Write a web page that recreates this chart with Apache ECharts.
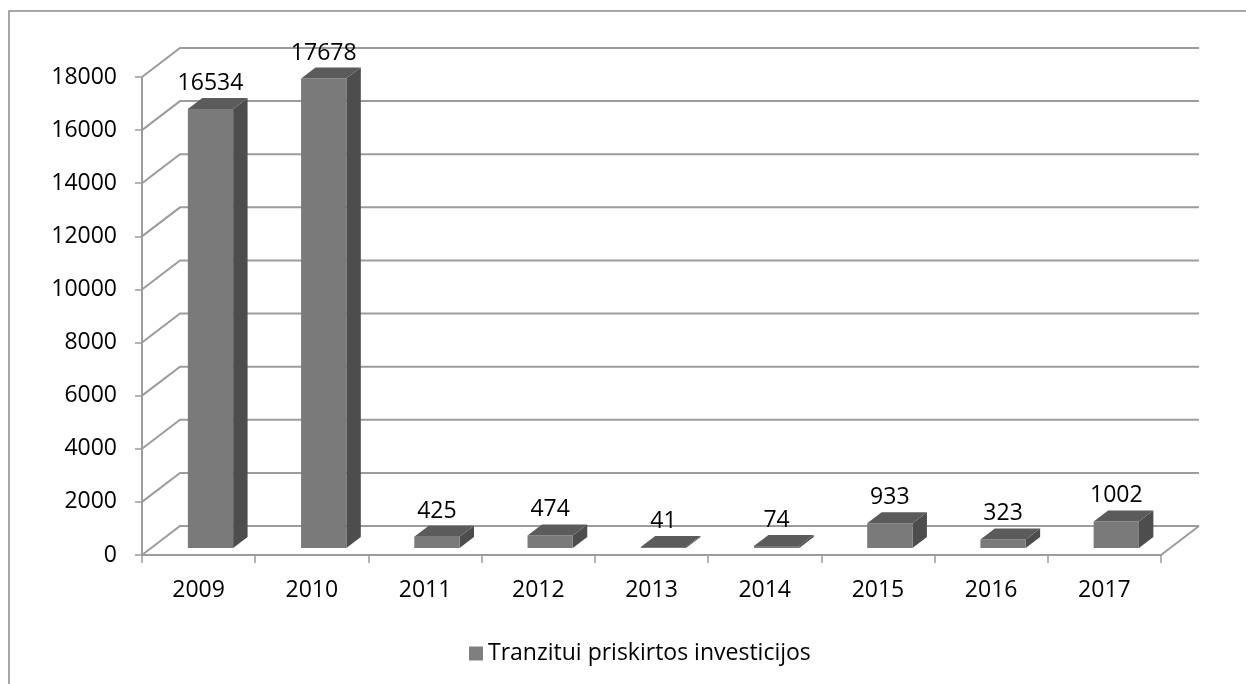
<!DOCTYPE html>
<html>
<head>
<meta charset="utf-8">
<title>Tranzitui priskirtos investicijos</title>
<script src="https://cdn.jsdelivr.net/npm/echarts@6/dist/echarts.min.js"></script>
<style>
  html, body { margin: 0; padding: 0; background: #fff; }
  #main { width: 1246px; height: 684px; }
</style>
</head>
<body>
<div id="main"></div>
<script>
// data
const categories = ['2009', '2010', '2011', '2012', '2013', '2014', '2015', '2016', '2017'];
const values = [16534, 17678, 425, 474, 41, 74, 933, 323, 1002];
const yTicks = [0, 2000, 4000, 6000, 8000, 10000, 12000, 14000, 16000, 18000];
const seriesName = 'Tranzitui priskirtos investicijos';

// 3D look: back wall offset and bar depth (fractions of it)
const DX = 38, DY = 29;
const D0 = 0.24, D1 = 0.62;
const FONT = '"Open Sans", Lato, sans-serif';
const FONT_SIZE = 23;
const GRID_COLOR = '#9c9c9c';

var myChart = echarts.init(document.getElementById('main'));

// back wall gridlines + floor edge
function renderWall(params, api) {
    let cs = params.coordSys;
    let y = api.coord([0, api.value(1)])[1];
    let x0 = cs.x, x1 = cs.x + cs.width;
    let style = { stroke: GRID_COLOR, lineWidth: 2, fill: null };
    let children = [{
        type: 'polyline',
        shape: { points: [[x0, y], [x0 + DX, y - DY], [x1 + DX, y - DY]] },
        style: style
    }];
    if (params.dataIndex === 0) {
        children.push({
            type: 'line',
            shape: { x1: x1, y1: y, x2: x1 + DX, y2: y - DY },
            style: style
        });
    }
    return { type: 'group', children: children };
}

// bar as a box: front, right side, top + value label
function renderBar(params, api) {
    let idx = api.value(0);
    let v = api.value(1);
    let top = api.coord([idx, v]);
    let base = api.coord([idx, 0]);
    let band = api.size([1, 0])[0];
    let w = band * 0.4;
    let fx = top[0] + band * 0.105 - w / 2;
    let fyTop = top[1] - D0 * DY;
    let fyBot = base[1] - D0 * DY;
    let ddx = (D1 - D0) * DX;
    let ddy = (D1 - D0) * DY;
    return {
        type: 'group',
        children: [{
            type: 'polygon',
            shape: { points: [[fx + w, fyTop], [fx + w + ddx, fyTop - ddy], [fx + w + ddx, fyBot - ddy], [fx + w, fyBot]] },
            style: { fill: '#4d4d4d' }
        }, {
            type: 'rect',
            shape: { x: fx, y: fyTop, width: w, height: fyBot - fyTop },
            style: { fill: '#7a7a7a' }
        }, {
            type: 'polygon',
            shape: { points: [[fx, fyTop], [fx + ddx, fyTop - ddy], [fx + w + ddx, fyTop - ddy], [fx + w, fyTop]] },
            style: { fill: '#5b5b5b' }
        }, {
            type: 'text',
            style: {
                x: fx + w / 2,
                y: fyTop - ddy - 3,
                text: String(v),
                align: 'center',
                verticalAlign: 'bottom',
                fill: '#000',
                font: FONT_SIZE + 'px ' + FONT
            }
        }]
    };
}

let option = {
    animation: false,
    backgroundColor: '#fff',
    textStyle: { fontFamily: FONT },
    graphic: [{
        type: 'rect',
        shape: { x: 9, y: 11, width: 1260, height: 700 },
        style: { fill: null, stroke: '#8a8a8a', lineWidth: 1.5 },
        silent: true
    }],
    grid: { left: 142, right: 85, top: 77, bottom: 129 },
    legend: {
        data: [{ name: seriesName, icon: 'rect' }],
        left: 464,
        top: 637,
        itemWidth: 14,
        itemHeight: 14,
        itemGap: 5,
        textStyle: { fontSize: FONT_SIZE, color: '#000', fontFamily: FONT }
    },
    xAxis: {
        type: 'category',
        data: categories,
        boundaryGap: true,
        axisLine: { lineStyle: { color: GRID_COLOR, width: 2 } },
        axisTick: { show: true, length: 8, lineStyle: { color: GRID_COLOR, width: 1.5 } },
        axisLabel: { color: '#000', fontSize: FONT_SIZE, margin: 24, fontFamily: FONT },
        splitLine: { show: false }
    },
    yAxis: {
        type: 'value',
        min: 0,
        max: 18000,
        interval: 2000,
        axisLine: { show: true, lineStyle: { color: GRID_COLOR, width: 2 } },
        axisTick: { show: true, length: 7, lineStyle: { color: GRID_COLOR, width: 1.5 } },
        axisLabel: {
            color: '#000',
            fontSize: FONT_SIZE,
            margin: 25,
            fontFamily: FONT,
            formatter: function(v) { return String(v); }
        },
        splitLine: { show: false }
    },
    series: [{
        name: 'wall',
        type: 'custom',
        renderItem: renderWall,
        data: yTicks.map(function(t) { return [0, t]; }),
        silent: true,
        z: 1
    }, {
        name: seriesName,
        type: 'custom',
        renderItem: renderBar,
        itemStyle: { color: '#7f7f7f' },
        data: values.map(function(v, i) { return [i, v]; }),
        z: 3
    }]
};

myChart.setOption(option);
</script>
</body>
</html>
